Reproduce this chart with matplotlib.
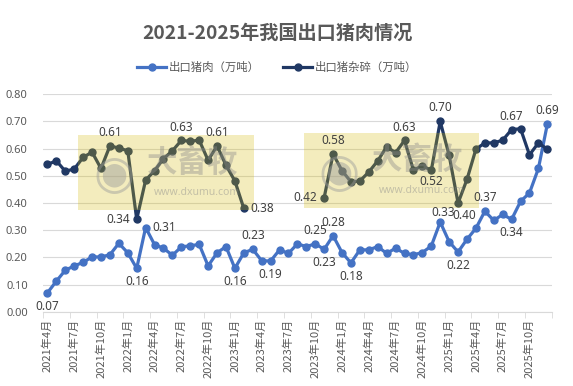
import numpy as np
import matplotlib
matplotlib.use("Agg")
import matplotlib.pyplot as plt
from matplotlib.patches import Rectangle

plt.rcParams['font.family'] = ['Noto Sans CJK SC', 'DejaVu Sans']
num_font = ['Noto Sans', 'DejaVu Sans']

# 2021年4月 ... 2025年12月
months = [f"{y}年{m}月" for y in range(2021, 2026) for m in range(1, 13)][3:]

pork = [0.07, 0.113, 0.153, 0.169, 0.182, 0.202, 0.202, 0.210, 0.252, 0.217,
        0.16, 0.31, 0.247, 0.234, 0.208, 0.239, 0.243, 0.248, 0.169, 0.217,
        0.240, 0.16, 0.217, 0.23, 0.188, 0.187, 0.228, 0.215, 0.250, 0.240,
        0.25, 0.23, 0.28, 0.218, 0.18, 0.228, 0.228, 0.240, 0.215, 0.234,
        0.215, 0.210, 0.218, 0.242, 0.33, 0.258, 0.22, 0.267, 0.307, 0.37,
        0.336, 0.358, 0.34, 0.406, 0.437, 0.527, 0.69]

offal = [0.542, 0.555, 0.517, 0.525, 0.568, 0.587, 0.527, 0.61, 0.602, 0.592,
         0.34, 0.484, 0.519, 0.563, 0.592, 0.63, 0.627, 0.631, 0.557, 0.61,
         0.539, 0.481, 0.38, None, None, None, None, None, None, None,
         None, 0.42, 0.58, 0.519, 0.478, 0.481, 0.514, 0.555, 0.607, 0.585,
         0.63, 0.521, 0.537, 0.52, 0.70, 0.575, 0.40, 0.487, 0.598, 0.621,
         0.621, 0.631, 0.67, 0.673, 0.577, 0.621, 0.598]

# which points carry a data label, and where
pork_labels = {0: "below", 10: "below", 11: "right", 21: "below", 23: "above",
               25: "below", 30: "above", 31: "below", 32: "above", 34: "below",
               44: "above_near", 46: "below", 49: "above", 52: "below", 56: "above"}
offal_labels = {7: "above", 10: "left", 15: "above", 19: "above", 22: "right",
                31: "left", 32: "above", 40: "above", 43: "below_near", 44: "above",
                46: "belowright", 52: "above"}

c_pork = "#4472C4"
c_offal = "#203864"
grey = "#595959"

x = np.arange(len(months))
pork_arr = np.array(pork, dtype=float)
offal_arr = np.array([np.nan if v is None else v for v in offal])

fig = plt.figure(figsize=(5.73, 3.86), dpi=100)
ax = fig.add_axes([0.075, 0.192, 0.888, 0.564])

ax.plot(x, pork_arr, color=c_pork, lw=2.3, marker="o", ms=5, label="出口猪肉（万吨）", zorder=3)
ax.plot(x, offal_arr, color=c_offal, lw=2.3, marker="o", ms=5, label="出口猪杂碎（万吨）", zorder=3)

offsets = {"above": (0, 5, "center", "bottom"),
           "above_near": (2, 2.5, "center", "bottom"),
           "below": (0, -5, "center", "top"),
           "below_near": (0, -3, "center", "top"),
           "left": (-5, 0, "right", "center"),
           "right": (5, 0, "left", "center"),
           "belowright": (4.5, -4, "center", "top")}


def put_labels(vals, labels):
    for i, pos in labels.items():
        dx, dy, ha, va = offsets[pos]
        ax.annotate(f"{vals[i]:.2f}", (x[i], vals[i]), xytext=(dx, dy),
                    textcoords="offset points", ha=ha, va=va, family=num_font,
                    fontsize=8.5, color="#404040", zorder=5)


put_labels(pork_arr, pork_labels)
put_labels(offal_arr, offal_labels)

ax.set_xlim(-0.5, len(months) - 0.5)
ax.set_ylim(0, 0.8)
yt = np.arange(0, 0.81, 0.1)
ax.set_yticks(yt)
ax.set_yticklabels([f"{v:.2f}" for v in yt], family=num_font)
ax.yaxis.grid(True, color="#D9D9D9", lw=0.8)
ax.set_axisbelow(True)
ax.tick_params(axis="y", length=0, labelsize=8, labelcolor=grey, pad=11)

ax.set_xticks(x[::3])
ax.set_xticklabels(months[::3], rotation=90, fontsize=8, color=grey)
ax.set_xticks(np.arange(-0.5, len(months), 3), minor=True)
ax.tick_params(axis="x", which="major", length=0, pad=5)
ax.tick_params(axis="x", which="minor", length=4, color="#D9D9D9")

for s in ["top", "right", "left"]:
    ax.spines[s].set_visible(False)
ax.spines["bottom"].set_color("#D9D9D9")

# watermark boxes
for x0, y0 in [(3.45, 0.374), (28.7, 0.382)]:
    ax.add_patch(Rectangle((x0, y0), 19.7, 0.276, facecolor="#d4b800", alpha=0.26,
                           edgecolor="none", zorder=4))
    ax.text(x0 + 4.0, y0 + 0.128, "◉", fontsize=34, color="#9a9a9a", alpha=0.45,
            ha="center", va="center", family=["DejaVu Sans"], zorder=4)
    ax.text(x0 + 12.8, y0 + 0.175, "大畜牧", fontsize=22, color="#8a8a8a", alpha=0.4,
            ha="center", va="center", fontweight="bold", zorder=4)
    ax.text(x0 + 13.3, y0 + 0.064, "www.dxumu.com", fontsize=7.5, color="#8a8a8a",
            alpha=0.45, ha="center", va="center", family=num_font, zorder=4)

fig.text(0.484, 0.915, "2021-2025年我国出口猪肉情况", fontsize=13.8, fontweight="bold",
         color=grey, ha="center", va="center")
fig.legend(loc="center", bbox_to_anchor=(0.4834, 0.826), ncol=2, frameon=False,
           fontsize=8.2, labelcolor=grey, handlelength=2.55, columnspacing=2.1,
           handletextpad=0.2)

fig.savefig("out.png", dpi=100)
